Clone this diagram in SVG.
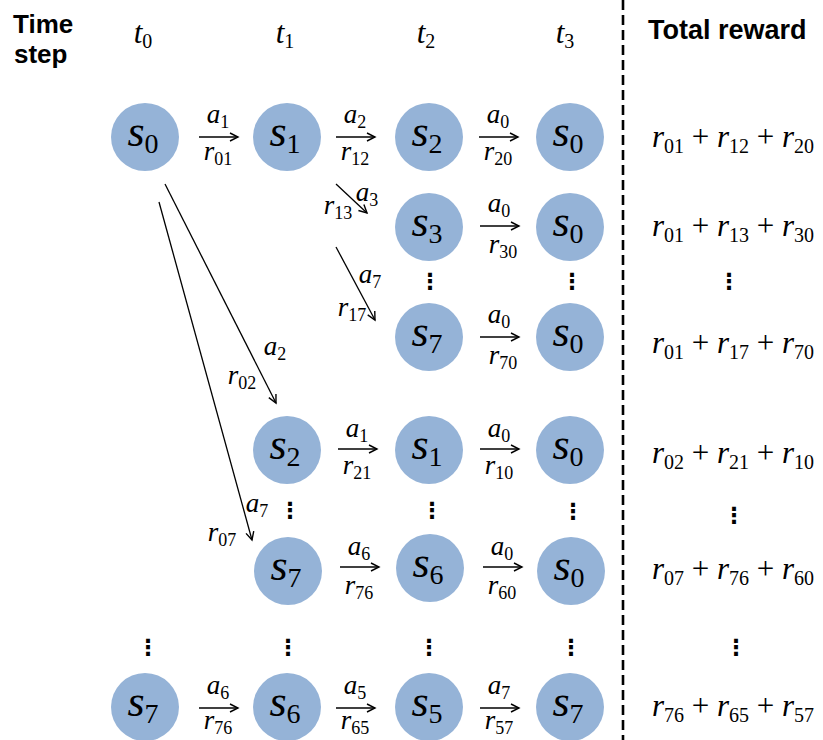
<svg xmlns="http://www.w3.org/2000/svg" width="823" height="740" viewBox="0 0 823 740">
<defs>
<marker id="ah" markerUnits="userSpaceOnUse" markerWidth="12" markerHeight="12" refX="10" refY="6" orient="auto">
<path d="M2,2 L10,6 L2,10" fill="none" stroke="#000" stroke-width="1.4"/>
</marker>
<style>
.bg{fill:#fff}
.nd{fill:#95b3d7}
.st{font-family:"Liberation Serif",serif;font-size:44px;font-style:italic;fill:#000;text-anchor:middle}
.st .sb{font-size:28px;font-style:normal}
.el{font-family:"Liberation Serif",serif;font-size:27px;font-style:italic;fill:#000;text-anchor:middle}
.el .sb{font-size:18px;font-style:normal}
.tl{font-family:"Liberation Serif",serif;font-size:31px;font-style:italic;fill:#000;text-anchor:middle}
.tl .sb{font-size:20px;font-style:normal}
.ex{font-family:"Liberation Serif",serif;font-size:31px;font-style:italic;fill:#000;text-anchor:middle}
.ex .sb{font-size:20px;font-style:normal}
.ex .op{font-style:normal}
.hd{font-family:"Liberation Sans",Arial,sans-serif;font-weight:bold;fill:#000}
.dt{font-family:"DejaVu Sans",sans-serif;font-size:22px;font-weight:bold;fill:#000;text-anchor:middle}
.ed line{stroke:#000;stroke-width:1.3;marker-end:url(#ah)}
.sep{stroke:#000;stroke-width:2.6;stroke-dasharray:10 5}
</style>
</defs>
<rect class="bg" x="0" y="0" width="823" height="740"/>

<!-- headers -->
<g id="header">
<text class="hd" x="13" y="33" font-size="26">Time</text>
<text class="hd" x="14" y="63" font-size="26">step</text>
<text class="hd" x="648" y="39" font-size="27">Total reward</text>
<text class="tl" x="143" y="43"><tspan>t</tspan><tspan class="sb" dy="5">0</tspan></text>
<text class="tl" x="285" y="43"><tspan>t</tspan><tspan class="sb" dy="5">1</tspan></text>
<text class="tl" x="426" y="43"><tspan>t</tspan><tspan class="sb" dy="5">2</tspan></text>
<text class="tl" x="565" y="43"><tspan>t</tspan><tspan class="sb" dy="5">3</tspan></text>
</g>

<line class="sep" x1="623" y1="0" x2="623" y2="740"/>

<!-- nodes row 1 -->
<g id="r1-t0"><circle class="nd" cx="145" cy="137" r="34"/><text class="st" x="143" y="146"><tspan>s</tspan><tspan class="sb" dy="7">0</tspan></text></g>
<g id="r1-t1"><circle class="nd" cx="287" cy="137" r="34"/><text class="st" x="285" y="146"><tspan>s</tspan><tspan class="sb" dy="7">1</tspan></text></g>
<g id="r1-t2"><circle class="nd" cx="429" cy="137" r="34"/><text class="st" x="427" y="146"><tspan>s</tspan><tspan class="sb" dy="7">2</tspan></text></g>
<g id="r1-t3"><circle class="nd" cx="570" cy="137" r="34"/><text class="st" x="568" y="146"><tspan>s</tspan><tspan class="sb" dy="7">0</tspan></text></g>
<!-- row 2 -->
<g id="r2-t2"><circle class="nd" cx="429" cy="227" r="34"/><text class="st" x="427" y="236"><tspan>s</tspan><tspan class="sb" dy="7">3</tspan></text></g>
<g id="r2-t3"><circle class="nd" cx="570" cy="227" r="34"/><text class="st" x="568" y="236"><tspan>s</tspan><tspan class="sb" dy="7">0</tspan></text></g>
<!-- row 3 -->
<g id="r3-t2"><circle class="nd" cx="429" cy="337" r="34"/><text class="st" x="427" y="346"><tspan>s</tspan><tspan class="sb" dy="7">7</tspan></text></g>
<g id="r3-t3"><circle class="nd" cx="570" cy="337" r="34"/><text class="st" x="568" y="346"><tspan>s</tspan><tspan class="sb" dy="7">0</tspan></text></g>
<!-- row 4 -->
<g id="r4-t1"><circle class="nd" cx="287" cy="450" r="34"/><text class="st" x="285" y="459"><tspan>s</tspan><tspan class="sb" dy="7">2</tspan></text></g>
<g id="r4-t2"><circle class="nd" cx="429" cy="450" r="34"/><text class="st" x="427" y="459"><tspan>s</tspan><tspan class="sb" dy="7">1</tspan></text></g>
<g id="r4-t3"><circle class="nd" cx="570" cy="450" r="34"/><text class="st" x="568" y="459"><tspan>s</tspan><tspan class="sb" dy="7">0</tspan></text></g>
<!-- row 5 -->
<g id="r5-t1"><circle class="nd" cx="288" cy="571" r="34"/><text class="st" x="286" y="580"><tspan>s</tspan><tspan class="sb" dy="7">7</tspan></text></g>
<g id="r5-t2"><circle class="nd" cx="430" cy="568" r="34"/><text class="st" x="428" y="577"><tspan>s</tspan><tspan class="sb" dy="7">6</tspan></text></g>
<g id="r5-t3"><circle class="nd" cx="571" cy="571" r="34"/><text class="st" x="569" y="580"><tspan>s</tspan><tspan class="sb" dy="7">0</tspan></text></g>
<!-- row 6 -->
<g id="r6-t0"><circle class="nd" cx="145" cy="707" r="34"/><text class="st" x="143" y="716"><tspan>s</tspan><tspan class="sb" dy="7">7</tspan></text></g>
<g id="r6-t1"><circle class="nd" cx="287" cy="707" r="34"/><text class="st" x="285" y="716"><tspan>s</tspan><tspan class="sb" dy="7">6</tspan></text></g>
<g id="r6-t2"><circle class="nd" cx="429" cy="707" r="34"/><text class="st" x="427" y="716"><tspan>s</tspan><tspan class="sb" dy="7">5</tspan></text></g>
<g id="r6-t3"><circle class="nd" cx="570" cy="707" r="34"/><text class="st" x="568" y="716"><tspan>s</tspan><tspan class="sb" dy="7">7</tspan></text></g>

<!-- connectors -->
<g id="edges" class="ed">
<line x1="199" y1="137" x2="238" y2="137"/>
<line x1="336" y1="137" x2="375" y2="137"/>
<line x1="479" y1="137" x2="518" y2="137"/>
<line x1="480" y1="226" x2="519" y2="226"/>
<line x1="480" y1="337" x2="519" y2="337"/>
<line x1="338" y1="449" x2="377" y2="449"/>
<line x1="480" y1="449" x2="519" y2="449"/>
<line x1="340" y1="567" x2="379" y2="567"/>
<line x1="483" y1="567" x2="522" y2="567"/>
<line x1="199" y1="708" x2="238" y2="708"/>
<line x1="336" y1="708" x2="375" y2="708"/>
<line x1="480" y1="708" x2="519" y2="708"/>
<line x1="336" y1="184" x2="367" y2="213"/>
<line x1="336" y1="247" x2="375" y2="320"/>
<line x1="165" y1="184" x2="276" y2="403"/>
<line x1="159" y1="202" x2="252" y2="540"/>
</g>

<!-- connector labels -->
<g id="edge-labels">
<text class="el" x="218" y="123"><tspan>a</tspan><tspan class="sb" dy="5">1</tspan></text>
<text class="el" x="218" y="160"><tspan>r</tspan><tspan class="sb" dy="5">01</tspan></text>
<text class="el" x="355" y="123"><tspan>a</tspan><tspan class="sb" dy="5">2</tspan></text>
<text class="el" x="355" y="160"><tspan>r</tspan><tspan class="sb" dy="5">12</tspan></text>
<text class="el" x="498" y="123"><tspan>a</tspan><tspan class="sb" dy="5">0</tspan></text>
<text class="el" x="498" y="160"><tspan>r</tspan><tspan class="sb" dy="5">20</tspan></text>
<text class="el" x="499" y="212"><tspan>a</tspan><tspan class="sb" dy="5">0</tspan></text>
<text class="el" x="503" y="253"><tspan>r</tspan><tspan class="sb" dy="5">30</tspan></text>
<text class="el" x="499" y="323"><tspan>a</tspan><tspan class="sb" dy="5">0</tspan></text>
<text class="el" x="503" y="364"><tspan>r</tspan><tspan class="sb" dy="5">70</tspan></text>
<text class="el" x="357" y="437"><tspan>a</tspan><tspan class="sb" dy="5">1</tspan></text>
<text class="el" x="357" y="474"><tspan>r</tspan><tspan class="sb" dy="5">21</tspan></text>
<text class="el" x="499" y="437"><tspan>a</tspan><tspan class="sb" dy="5">0</tspan></text>
<text class="el" x="499" y="474"><tspan>r</tspan><tspan class="sb" dy="5">10</tspan></text>
<text class="el" x="359" y="555"><tspan>a</tspan><tspan class="sb" dy="5">6</tspan></text>
<text class="el" x="359" y="594"><tspan>r</tspan><tspan class="sb" dy="5">76</tspan></text>
<text class="el" x="502" y="555"><tspan>a</tspan><tspan class="sb" dy="5">0</tspan></text>
<text class="el" x="502" y="594"><tspan>r</tspan><tspan class="sb" dy="5">60</tspan></text>
<text class="el" x="218" y="694"><tspan>a</tspan><tspan class="sb" dy="5">6</tspan></text>
<text class="el" x="218" y="729"><tspan>r</tspan><tspan class="sb" dy="5">76</tspan></text>
<text class="el" x="355" y="694"><tspan>a</tspan><tspan class="sb" dy="5">5</tspan></text>
<text class="el" x="355" y="729"><tspan>r</tspan><tspan class="sb" dy="5">65</tspan></text>
<text class="el" x="499" y="694"><tspan>a</tspan><tspan class="sb" dy="5">7</tspan></text>
<text class="el" x="499" y="729"><tspan>r</tspan><tspan class="sb" dy="5">57</tspan></text>
<text class="el" x="367" y="201"><tspan>a</tspan><tspan class="sb" dy="5">3</tspan></text>
<text class="el" x="338" y="214"><tspan>r</tspan><tspan class="sb" dy="5">13</tspan></text>
<text class="el" x="370" y="283"><tspan>a</tspan><tspan class="sb" dy="5">7</tspan></text>
<text class="el" x="352" y="316"><tspan>r</tspan><tspan class="sb" dy="5">17</tspan></text>
<text class="el" x="275" y="355"><tspan>a</tspan><tspan class="sb" dy="5">2</tspan></text>
<text class="el" x="242" y="384"><tspan>r</tspan><tspan class="sb" dy="5">02</tspan></text>
<text class="el" x="257" y="512"><tspan>a</tspan><tspan class="sb" dy="5">7</tspan></text>
<text class="el" x="222" y="541"><tspan>r</tspan><tspan class="sb" dy="5">07</tspan></text>
</g>

<!-- ellipses -->
<g id="ellipses">
<text class="dt" x="430" y="289">⋮</text>
<text class="dt" x="572" y="289">⋮</text>
<text class="dt" x="729" y="289">⋮</text>
<text class="dt" x="290" y="518">⋮</text>
<text class="dt" x="432" y="518">⋮</text>
<text class="dt" x="573" y="519">⋮</text>
<text class="dt" x="734" y="523">⋮</text>
<text class="dt" x="148" y="655">⋮</text>
<text class="dt" x="288" y="655">⋮</text>
<text class="dt" x="429" y="655">⋮</text>
<text class="dt" x="571" y="655">⋮</text>
<text class="dt" x="736" y="655">⋮</text>
</g>

<!-- total rewards -->
<g id="totals">
<text class="ex" x="733" y="147"><tspan>r</tspan><tspan class="sb" dy="6">01</tspan><tspan class="op" dy="-6"> + </tspan><tspan>r</tspan><tspan class="sb" dy="6">12</tspan><tspan class="op" dy="-6"> + </tspan><tspan>r</tspan><tspan class="sb" dy="6">20</tspan></text>
<text class="ex" x="733" y="236"><tspan>r</tspan><tspan class="sb" dy="6">01</tspan><tspan class="op" dy="-6"> + </tspan><tspan>r</tspan><tspan class="sb" dy="6">13</tspan><tspan class="op" dy="-6"> + </tspan><tspan>r</tspan><tspan class="sb" dy="6">30</tspan></text>
<text class="ex" x="733" y="353"><tspan>r</tspan><tspan class="sb" dy="6">01</tspan><tspan class="op" dy="-6"> + </tspan><tspan>r</tspan><tspan class="sb" dy="6">17</tspan><tspan class="op" dy="-6"> + </tspan><tspan>r</tspan><tspan class="sb" dy="6">70</tspan></text>
<text class="ex" x="733" y="463"><tspan>r</tspan><tspan class="sb" dy="6">02</tspan><tspan class="op" dy="-6"> + </tspan><tspan>r</tspan><tspan class="sb" dy="6">21</tspan><tspan class="op" dy="-6"> + </tspan><tspan>r</tspan><tspan class="sb" dy="6">10</tspan></text>
<text class="ex" x="733" y="579"><tspan>r</tspan><tspan class="sb" dy="6">07</tspan><tspan class="op" dy="-6"> + </tspan><tspan>r</tspan><tspan class="sb" dy="6">76</tspan><tspan class="op" dy="-6"> + </tspan><tspan>r</tspan><tspan class="sb" dy="6">60</tspan></text>
<text class="ex" x="733" y="716"><tspan>r</tspan><tspan class="sb" dy="6">76</tspan><tspan class="op" dy="-6"> + </tspan><tspan>r</tspan><tspan class="sb" dy="6">65</tspan><tspan class="op" dy="-6"> + </tspan><tspan>r</tspan><tspan class="sb" dy="6">57</tspan></text>
</g>
</svg>
